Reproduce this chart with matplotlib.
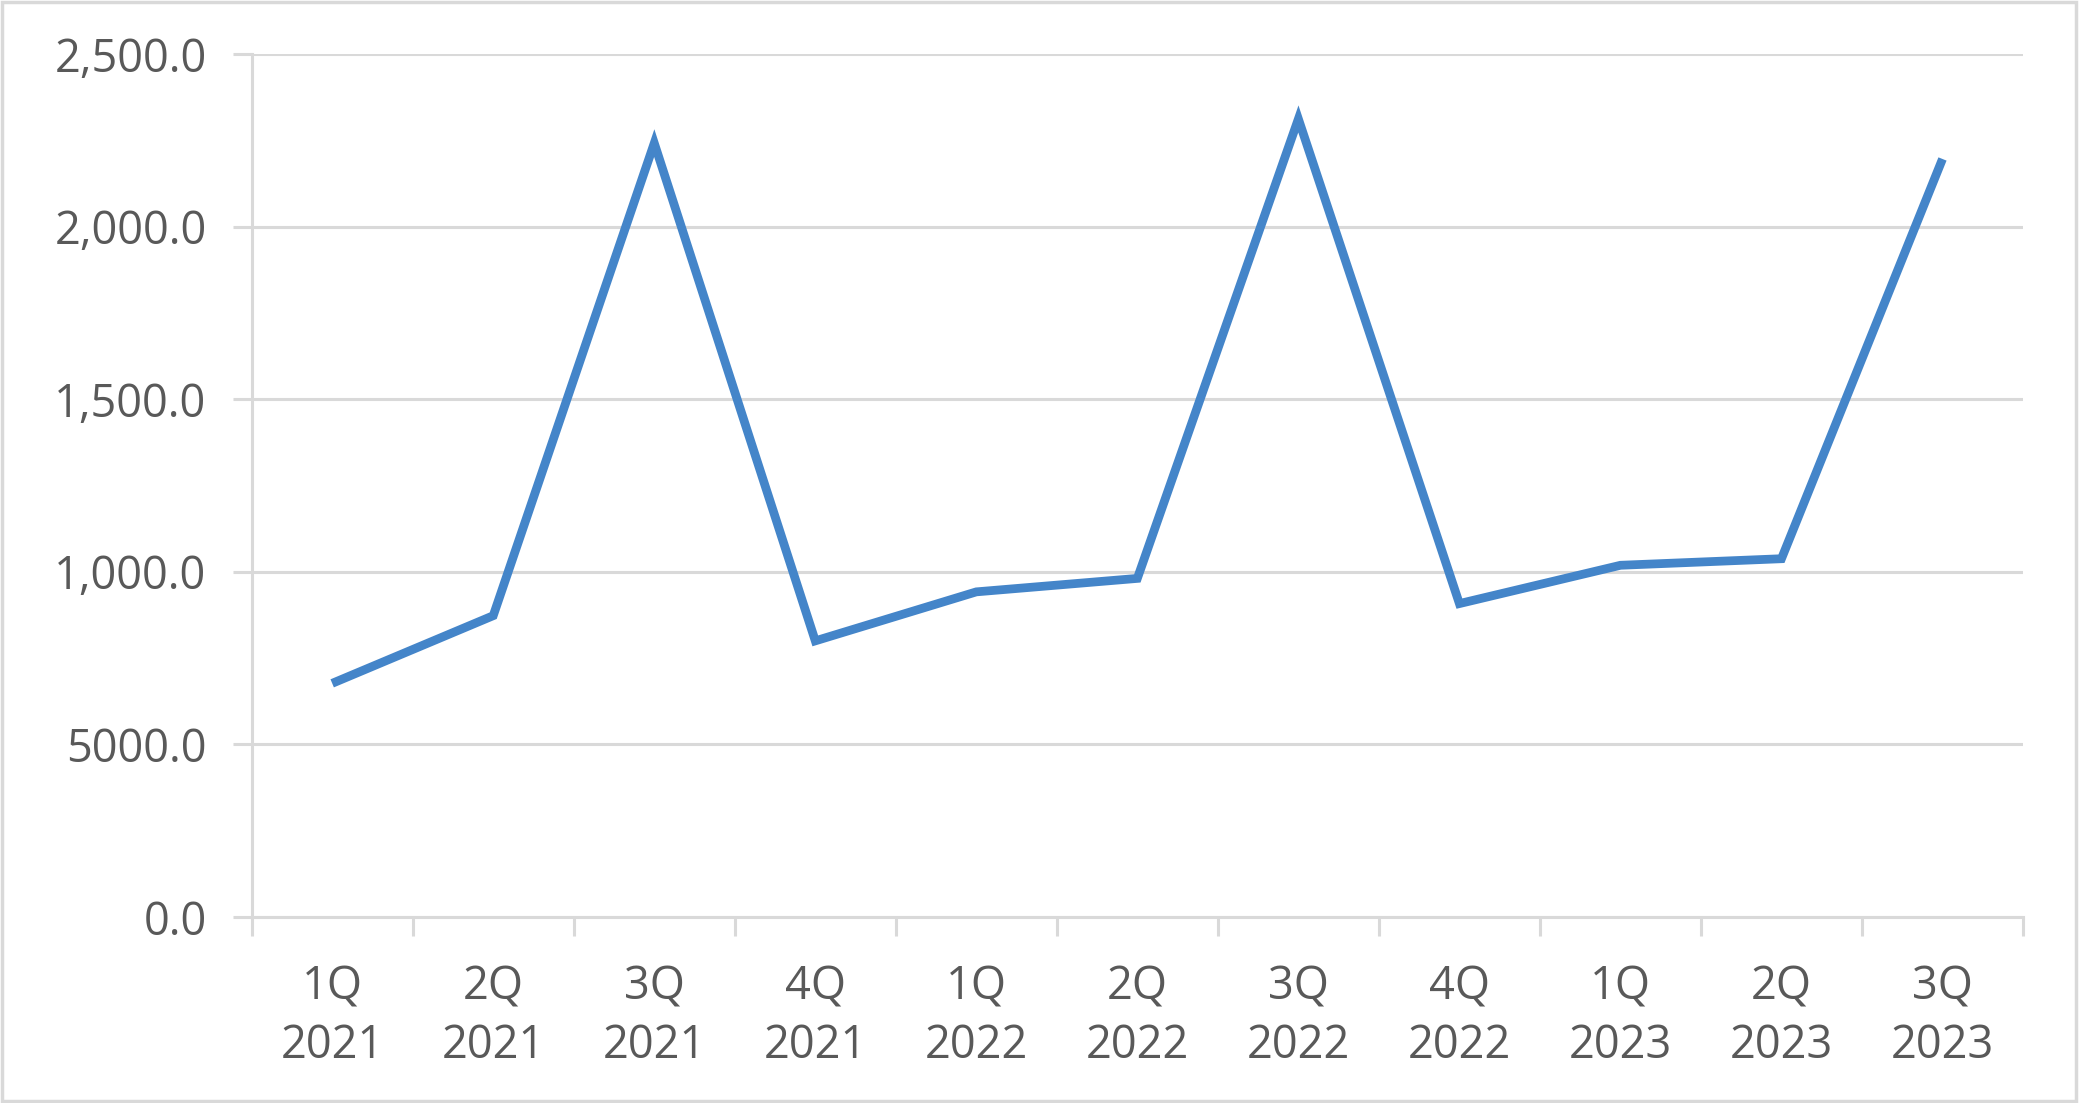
import numpy as np
import matplotlib.pyplot as plt
from matplotlib.patches import Rectangle
from matplotlib.ticker import FixedLocator

# quarters and values
quarters = ["1Q\n2021", "2Q\n2021", "3Q\n2021", "4Q\n2021",
            "1Q\n2022", "2Q\n2022", "3Q\n2022", "4Q\n2022",
            "1Q\n2023", "2Q\n2023", "3Q\n2023"]
values = [677, 873, 2242, 800, 942, 981, 2312, 908, 1019, 1038, 2196]
y_ticks = [0, 500, 1000, 1500, 2000, 2500]
y_labels = ["0.0", "5000.0", "1,000.0", "1,500.0", "2,000.0", "2,500.0"]

plt.rcParams['font.family'] = ['Open Sans', 'DejaVu Sans']
grey = '#d9d9d9'
txt = '#595959'

fig = plt.figure(figsize=(20.8, 11.03), dpi=100)
ax = fig.add_axes([0.121, 0.1686, 0.9726 - 0.121, 0.951 - 0.1686])

x = np.arange(len(quarters))
ax.plot(x, values, color='#4485c9', lw=6.3, solid_joinstyle='miter', solid_capstyle='butt')

ax.set_xlim(-0.5, len(quarters) - 0.5)
ax.set_ylim(0, 2500)

ax.set_yticks(y_ticks)
ax.set_yticklabels(y_labels)
ax.set_xticks(x)
ax.set_xticklabels(quarters, linespacing=1.36)
ax.xaxis.set_minor_locator(FixedLocator(np.arange(-0.5, len(quarters), 1)))

ax.tick_params(axis='x', which='major', length=0, pad=34, labelsize=32.5, labelcolor=txt)
ax.tick_params(axis='x', which='minor', length=14, width=2.2, color=grey)
ax.tick_params(axis='y', length=13.5, width=2.2, color=grey, pad=19, labelsize=32.5, labelcolor=txt)

ax.grid(axis='y', color=grey, lw=2.2)
ax.set_axisbelow(True)
for s in ['top', 'right']:
    ax.spines[s].set_visible(False)
for s in ['left', 'bottom']:
    ax.spines[s].set_color(grey)
    ax.spines[s].set_linewidth(2.2)

# thin frame round the whole picture
fig.patches.append(Rectangle((0.001, 0.002), 0.997, 0.996, transform=fig.transFigure,
                             fill=False, edgecolor=grey, lw=2.5))

fig.savefig('out.png', dpi=100)
